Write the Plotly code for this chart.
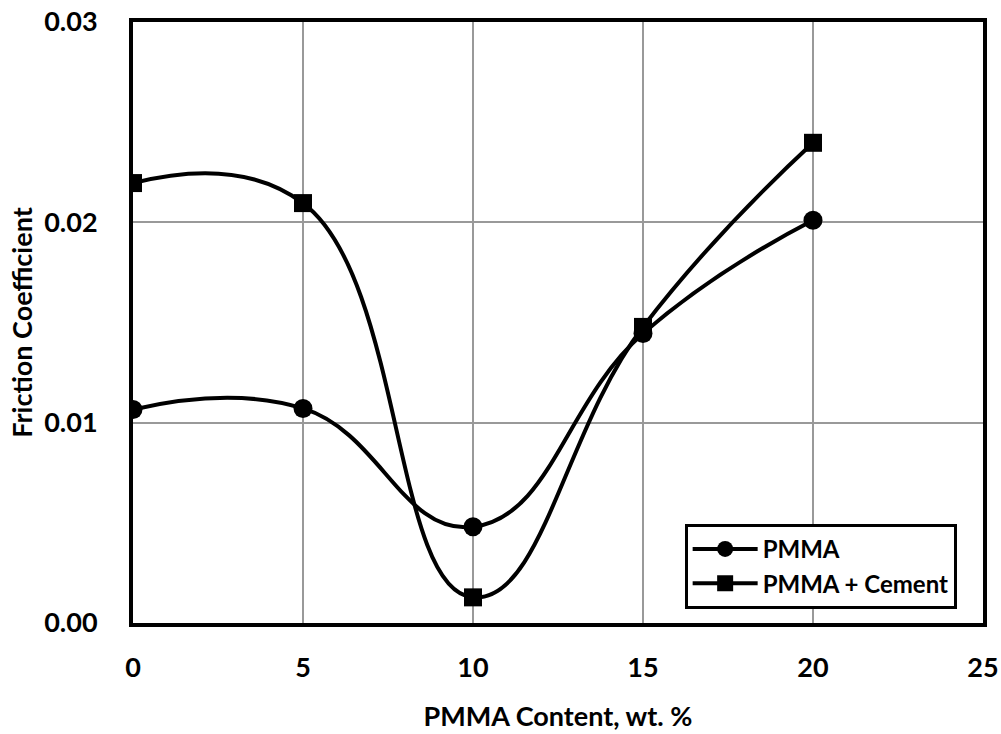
import plotly.graph_objects as go

x_vals = [0, 5, 10, 15, 20]
pmma = [0.01066, 0.01071, 0.0048, 0.01445, 0.0201]
pmma_cement = [0.02196, 0.02096, 0.00128, 0.01478, 0.02397]

font_family = "Lato"
W = "bold"

fig = go.Figure()
fig.add_trace(go.Scatter(
    x=x_vals, y=pmma, name="PMMA", mode="lines+markers",
    line=dict(color="black", width=4, shape="spline", smoothing=1.3),
    marker=dict(symbol="circle", size=19, color="black"),
))
fig.add_trace(go.Scatter(
    x=x_vals, y=pmma_cement, name="PMMA + Cement", mode="lines+markers",
    line=dict(color="black", width=4, shape="spline", smoothing=1.3),
    marker=dict(symbol="square", size=18, color="black"),
))

fig.update_layout(
    width=1001, height=734,
    margin=dict(l=133, r=18, t=22, b=111),
    paper_bgcolor="white", plot_bgcolor="white",
    font=dict(family=font_family, color="black", size=26, weight=W),
    showlegend=True,
    legend=dict(
        x=0.649, y=0.165, xanchor="left", yanchor="top",
        bgcolor="white", bordercolor="black", borderwidth=3,
        font=dict(size=24, family=font_family, color="black", weight=W),
        itemwidth=65,
    ),
    xaxis=dict(
        range=[0, 25], tickmode="array", tickvals=[0, 5, 10, 15, 20, 25],
        ticktext=["0", "5", "10", "15", "20", "25"],
        showgrid=True, gridcolor="#999999", gridwidth=1.5,
        showline=True, linecolor="black", linewidth=4, mirror=True,
        ticks="", ticklen=0, zeroline=False, ticklabelstandoff=18,
        automargin=False,
        title=dict(text="PMMA Content, wt. %", font=dict(size=27, weight=W), standoff=26),
        tickfont=dict(size=27, weight=W),
    ),
    yaxis=dict(
        range=[0, 0.03], tickmode="array", tickvals=[0, 0.01, 0.02, 0.03],
        ticktext=["0.00", "0.01", "0.02", "0.03"],
        showgrid=True, gridcolor="#999999", gridwidth=1.5,
        showline=True, linecolor="black", linewidth=4, mirror=True,
        ticks="", ticklen=0, zeroline=False, ticklabelstandoff=26,
        automargin=False,
        title=dict(text="Friction Coefficient", font=dict(size=27, weight=W), standoff=5),
        tickfont=dict(size=27, weight=W),
    ),
)

fig.write_html("out.html")
